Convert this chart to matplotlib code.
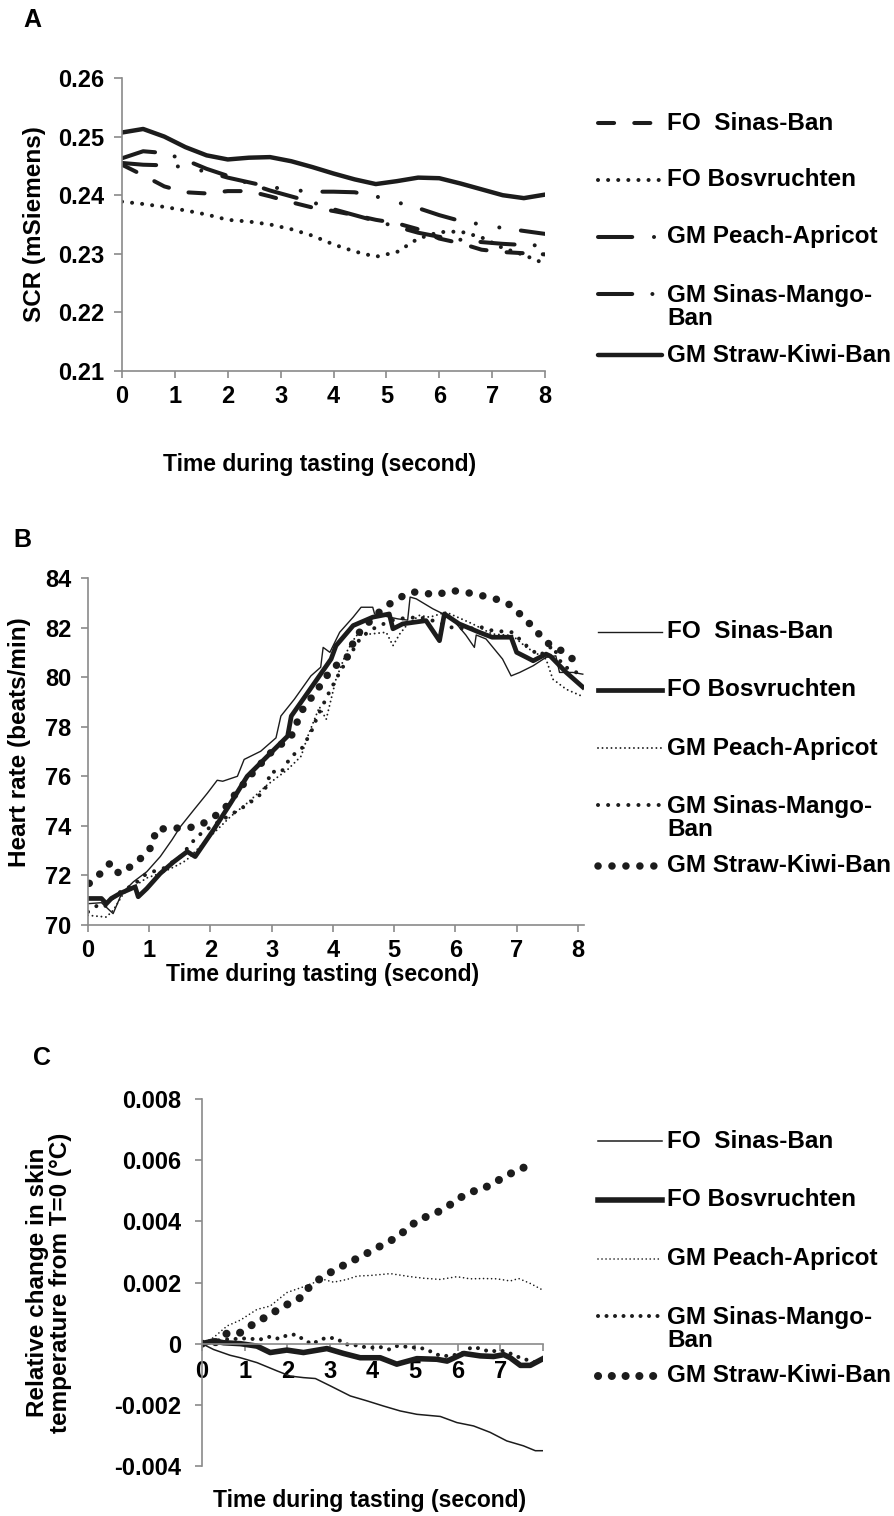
import matplotlib
matplotlib.use('Agg')
import matplotlib.pyplot as plt
from matplotlib.lines import Line2D

plt.rcParams['font.family'] = ['Liberation Sans', 'DejaVu Sans']
plt.rcParams['font.weight'] = 'bold'
plt.rcParams['axes.labelweight'] = 'bold'

# ---------------- data ----------------
labels = ['FO  Sinas-Ban', 'FO Bosvruchten', 'GM Peach-Apricot',
          'GM Sinas-Mango-\nBan', 'GM Straw-Kiwi-Ban']

# panel A: SCR (mSiemens)
a_x = [0.0, 0.4, 0.8, 1.2, 1.6, 2.0, 2.4, 2.8, 3.2, 3.6, 4.0,
       4.4, 4.8, 5.2, 5.6, 6.0, 6.4, 6.8, 7.2, 7.6, 8.0]
a_sinas = [0.2452, 0.2434, 0.2415, 0.2405, 0.2403, 0.2407, 0.2407, 0.2398, 0.2388, 0.2379, 0.2373,
           0.2366, 0.2358, 0.2352, 0.2342, 0.2326, 0.2318, 0.2307, 0.2303, 0.2301, 0.2299]
a_bos = [0.2389, 0.2385, 0.2380, 0.2374, 0.2367, 0.2358, 0.2355, 0.2350, 0.2342, 0.2331, 0.2316,
         0.2304, 0.2295, 0.2303, 0.2326, 0.2337, 0.2338, 0.2328, 0.2310, 0.2298, 0.2283]
a_peach = [0.2455, 0.2452, 0.2451, 0.2448, 0.2440, 0.2430, 0.2422, 0.2414, 0.2409, 0.2406, 0.2406,
           0.2405, 0.2398, 0.2388, 0.2378, 0.2366, 0.2356, 0.2350, 0.2344, 0.2339, 0.2334]
a_mango = [0.2463, 0.2475, 0.2472, 0.2460, 0.2445, 0.2433, 0.2420, 0.2408, 0.2398, 0.2388, 0.2376,
           0.2366, 0.2356, 0.2346, 0.2336, 0.2329, 0.2324, 0.2320, 0.2317, 0.2315, 0.2314]
a_kiwi = [0.2507, 0.2513, 0.2500, 0.2482, 0.2468, 0.2461, 0.2464, 0.2465, 0.2458, 0.2448, 0.2437,
          0.2427, 0.2419, 0.2424, 0.2430, 0.2429, 0.2420, 0.2410, 0.2400, 0.2395, 0.2401]

# panel B: heart rate (beats/min)
b_sinas_x = [0, 0.22, 0.41, 0.55, 0.74, 0.96, 1.18, 1.37, 1.51, 1.73, 1.95, 2.11, 2.2, 2.44, 2.55,
             2.82, 3.07, 3.15, 3.37, 3.64, 3.8, 3.84, 3.95, 4.11, 4.33, 4.46, 4.65, 4.68, 5.06,
             5.22, 5.26, 5.36, 5.63, 5.85, 6.0, 6.17, 6.31, 6.34, 6.5, 6.77, 6.91, 7.05, 7.27,
             7.48, 7.64, 7.7, 7.92, 8.08]
b_sinas = [70.86, 70.9, 70.46, 71.27, 71.74, 72.15, 72.76, 73.43, 73.97, 74.65, 75.32, 75.84, 75.8,
           76.0, 76.68, 77.01, 77.55, 78.43, 79.11, 80.05, 80.4, 81.2, 81.0, 81.81, 82.42, 82.82,
           82.82, 82.55, 82.35, 82.3, 83.23, 83.16, 82.76, 82.49, 82.2, 81.7, 81.2, 81.7, 81.54,
           80.73, 80.05, 80.19, 80.46, 80.8, 80.86, 80.19, 80.19, 80.12]
b_bos_x = [0, 0.22, 0.3, 0.38, 0.52, 0.77, 0.82, 0.96, 1.18, 1.4, 1.62, 1.75, 2.05, 2.33, 2.6, 2.93,
           3.26, 3.32, 3.59, 3.97, 4.05, 4.33, 4.65, 4.92, 4.98, 5.14, 5.52, 5.74, 5.82, 6.06, 6.39,
           6.6, 6.91, 7.0, 7.16, 7.27, 7.48, 7.55, 7.81, 8.08]
b_bos = [71.07, 71.07, 70.86, 71.07, 71.27, 71.54, 71.14, 71.47, 72.08, 72.55, 72.96, 72.76, 73.84,
         74.92, 76.0, 76.81, 77.62, 78.43, 79.38, 80.73, 81.27, 82.08, 82.42, 82.55, 81.95, 82.15,
         82.28, 81.47, 82.55, 82.15, 81.81, 81.61, 81.61, 81.0, 80.8, 80.66, 80.93, 80.85, 80.19, 79.6]
b_peach_x = [0, 0.3, 0.41, 0.58, 0.96, 1.2, 1.45, 1.6, 2.05, 2.33, 2.6, 2.93, 3.26, 3.48, 3.59, 3.78,
             3.89, 4.05, 4.22, 4.38, 4.87, 4.98, 5.09, 5.2, 5.41, 5.58, 5.85, 6.28, 6.6, 6.93, 7.16,
             7.48, 7.59, 7.81, 8.05]
b_peach = [70.39, 70.32, 70.59, 71.27, 71.9, 72.1, 72.4, 72.6, 73.7, 74.38, 74.92, 75.66, 76.27,
           76.81, 77.62, 78.8, 78.3, 79.92, 81.0, 81.68, 81.81, 81.27, 81.74, 82.08, 82.49, 82.42,
           82.62, 82.15, 81.74, 81.68, 81.2, 80.73, 79.92, 79.51, 79.25]
b_mango_x = [0, 0.16, 0.27, 0.44, 0.58, 0.74, 0.96, 1.23, 1.51, 1.78, 2.05, 2.33, 2.6, 2.88, 2.99,
             3.15, 3.32, 3.48, 3.64, 3.75, 3.92, 4.11, 4.27, 4.44, 4.6, 4.76, 5.03, 5.41, 5.63,
             5.93, 6.17, 6.44, 6.6, 6.93, 7.16, 7.37, 7.59, 7.75, 7.92, 8.05]
b_mango = [70.53, 70.8, 70.73, 71.2, 71.41, 71.61, 72.08, 72.28, 72.76, 73.57, 74.04, 74.45, 74.85,
           75.39, 76.2, 76.14, 76.81, 77.08, 77.76, 78.43, 79.3, 80.19, 80.86, 81.54, 81.88, 82.08,
           82.35, 82.42, 82.28, 82.01, 81.95, 82.01, 81.88, 81.81, 81.27, 80.86, 81.27, 80.46,
           80.26, 80.1]
b_kiwi_x = [0.02, 0.19, 0.36, 0.44, 0.56, 0.74, 0.93, 1.07, 1.1, 1.33, 1.56, 1.79, 2.0, 2.22, 2.34,
            2.49, 2.63, 2.79, 2.95, 3.15, 3.32, 3.4, 3.49, 3.63, 3.77, 3.9, 4.0, 4.22, 4.38, 4.49,
            4.65, 4.84, 5.06, 5.26, 5.44, 5.68, 5.92, 6.15, 6.38, 6.6, 6.83, 7.01, 7.18, 7.34,
            7.48, 7.64, 7.73, 7.85, 7.96]
b_kiwi = [71.68, 72.05, 72.49, 72.15, 72.08, 72.46, 72.82, 73.27, 73.84, 73.91, 73.91, 73.97, 74.27,
          74.65, 75.08, 75.53, 75.97, 76.41, 76.88, 77.28, 77.62, 78.09, 78.64, 79.11, 79.58, 80.05,
          80.39, 80.73, 81.68, 81.95, 82.38, 82.82, 83.16, 83.43, 83.43, 83.3, 83.5, 83.43, 83.32,
          83.19, 83.03, 82.65, 82.24, 81.81, 81.41, 81.2, 81.07, 80.84, 80.66]

# panel C: relative change in skin temperature (°C)
c_sinas_x = [0, 0.27, 0.66, 0.9, 1.29, 1.76, 2.07, 2.38, 2.66, 3.01, 3.48, 3.87, 4.26, 4.65, 5.04,
             5.59, 5.98, 6.37, 6.76, 7.15, 7.54, 7.82, 8.0]
c_sinas = [0, -0.00019, -0.00038, -0.00046, -0.00062, -0.00089, -0.00106, -0.00111, -0.00114,
           -0.00138, -0.00171, -0.00187, -0.00204, -0.00220, -0.00231, -0.00238, -0.00258,
           -0.00269, -0.00290, -0.00318, -0.00334, -0.00350, -0.00350]
c_bos_x = [0, 0.27, 0.51, 0.9, 1.29, 1.6, 1.99, 2.38, 2.93, 3.32, 3.71, 4.18, 4.57, 5.04, 5.51, 5.75,
           6.14, 6.53, 6.84, 7.08, 7.23, 7.47, 7.7, 8.0]
c_bos = [0, 0.00009, 0.00003, 0.0, -0.00008, -0.00029, -0.00021, -0.00029, -0.00016, -0.00032,
         -0.00046, -0.00046, -0.00067, -0.00049, -0.00051, -0.00057, -0.00032, -0.00040,
         -0.00042, -0.00036, -0.00046, -0.00071, -0.00071, -0.00049]
c_peach_x = [0, 0.27, 0.59, 0.9, 1.29, 1.6, 1.99, 2.38, 2.58, 2.85, 3.09, 3.4, 3.64, 3.95, 4.42,
             4.89, 5.2, 5.59, 5.98, 6.29, 6.61, 6.92, 7.23, 7.43, 7.7, 7.97]
c_peach = [0, 0.00020, 0.00058, 0.00077, 0.00112, 0.00123, 0.00167, 0.00186, 0.00197, 0.00210,
           0.00201, 0.00210, 0.00221, 0.00223, 0.00229, 0.00219, 0.00214, 0.00210, 0.00219,
           0.00212, 0.00213, 0.00212, 0.00205, 0.00213, 0.00197, 0.00177]
c_mango_x = [0, 0.27, 0.59, 0.98, 1.37, 1.6, 1.8, 1.99, 2.19, 2.38, 2.58, 2.78, 2.97, 3.17, 3.36,
             3.56, 3.75, 3.99, 4.18, 4.38, 4.57, 4.81, 5.0, 5.2, 5.39, 5.59, 5.82, 6.1, 6.33,
             6.53, 6.76, 6.96, 7.15, 7.39, 7.58, 7.78, 7.94]
c_mango = [0, 0.00009, 0.00014, 0.00017, 0.00014, 0.00023, 0.00016, 0.00027, 0.00030, 0.00014,
           -0.00002, 0.00014, 0.00020, 0.00016, -0.00002, -0.00004, -0.00010, -0.00013, -0.00011,
           -0.00019, -0.00008, -0.00010, -0.00013, -0.00016, -0.00027, -0.00040, -0.00040,
           -0.00032, -0.00011, -0.00016, -0.00027, -0.00021, -0.00027, -0.00042, -0.00051,
           -0.00060, -0.00060]
c_kiwi_x = [0, 0.3, 0.59, 0.9, 1.17, 1.47, 1.77, 2.05, 2.35, 2.54, 2.81, 3.1, 3.4, 3.7, 4.0, 4.3,
            4.59, 4.85, 5.12, 5.43, 5.73, 6.0, 6.29, 6.61, 6.9, 7.19, 7.5, 7.82]
c_kiwi = [0, 0.00003, 0.00034, 0.00036, 0.00061, 0.00085, 0.00110, 0.00132, 0.00153, 0.00190,
          0.00216, 0.00240, 0.00262, 0.00283, 0.00305, 0.00328, 0.00349, 0.00381, 0.00408,
          0.00423, 0.00445, 0.00473, 0.00495, 0.00508, 0.00530, 0.00553, 0.00573, 0.00591]

# ---------------- styles ----------------
INK = '#1c1c1c'
GREY = '#8a8a8a'
TICK_FS = 17
LAB_FS = 16.5
YLAB_FS = 17.5
LEG_FS = 17.5


def dots(lw, gap):
    return dict(lw=lw, ls=(0, (0.01, gap)), dash_capstyle='round', color=INK)


a_styles = [
    dict(lw=2.9, ls=(0, (4.0, 5.0)), dash_capstyle='round', color=INK),
    dots(2.9, 2.5),
    dict(lw=2.9, ls=(0, (8.5, 5.4, 0.01, 5.9, 0.01, 5.4)), dash_capstyle='round', color=INK),
    dict(lw=2.9, ls=(0, (8.5, 5.0, 0.01, 5.0)), dash_capstyle='round', color=INK),
    dict(lw=3.2, ls='-', solid_capstyle='round', color=INK),
]
b_styles = [
    dict(lw=1.0, ls='-', color=INK),
    dict(lw=3.4, ls='-', color=INK),
    dots(1.4, 2.3),
    dots(2.9, 2.5),
    dots(5.4, 1.85),
]
c_styles = [
    dict(lw=1.1, ls='-', color=INK),
    dict(lw=4.0, ls='-', color=INK),
    dots(1.2, 2.4),
    dots(2.9, 2.1),
    dots(5.8, 1.7),
]

W, H = 894, 1516
fig = plt.figure(figsize=(W / 100, H / 100), dpi=100)


def box(l, t, r, b):
    return [l / W, 1 - b / H, (r - l) / W, (b - t) / H]


def style_axes(ax):
    ax.spines['top'].set_visible(False)
    ax.spines['right'].set_visible(False)
    for s in ['left', 'bottom']:
        ax.spines[s].set_color(GREY)
        ax.spines[s].set_linewidth(1.2)
    ax.tick_params(colors=GREY, labelcolor='black', width=1.2, length=5,
                   labelsize=TICK_FS)


def legend_rows(rows, styles):
    for (hy, ty), lab, st in zip(rows, labels, styles):
        fig.add_artist(Line2D([598 / W, 662 / W], [1 - hy / H] * 2,
                              transform=fig.transFigure, **st))
        fig.text(667 / W, 1 - ty / H, lab, ha='left', va='center',
                 fontsize=LEG_FS, fontweight='bold', linespacing=0.95)


# ---------------- panel A ----------------
axA = fig.add_axes(box(122, 78, 545, 371))
style_axes(axA)
for ys, st in zip([a_sinas, a_bos, a_peach, a_mango, a_kiwi], a_styles):
    axA.plot(a_x, ys, **st)
axA.set_xlim(0, 8)
axA.set_ylim(0.21, 0.26)
axA.set_xticks(range(9))
axA.set_yticks([0.21, 0.22, 0.23, 0.24, 0.25, 0.26])
axA.set_yticklabels(['%.2f' % v for v in [0.21, 0.22, 0.23, 0.24, 0.25, 0.26]])
axA.tick_params(axis='y', length=6, pad=7)
axA.tick_params(axis='x', length=5, pad=5)
axA.set_xlabel('Time during tasting (second)', fontsize=LAB_FS)
axA.xaxis.label.set_va('center')
axA.xaxis.set_label_coords((320 - 122) / 423, (371 - 464) / 293)
axA.set_ylabel('SCR (mSiemens)', fontsize=YLAB_FS)
axA.yaxis.label.set_va('center')
axA.yaxis.set_label_coords((35 - 122) / 423, 0.5)
legend_rows([(123, 123), (180, 180), (237, 237), (294, 307), (355, 355)], a_styles)

# ---------------- panel B ----------------
axB = fig.add_axes(box(88, 578, 584, 925))
style_axes(axB)
b_series = [(b_sinas_x, b_sinas), (b_bos_x, b_bos), (b_peach_x, b_peach),
            (b_mango_x, b_mango), (b_kiwi_x, b_kiwi)]
for (xs, ys), st in zip(b_series, b_styles):
    axB.plot(xs, ys, **st)
axB.set_xlim(0, 8.1)
axB.set_ylim(70, 84)
axB.set_xticks(range(9))
axB.set_yticks(range(70, 85, 2))
axB.tick_params(axis='y', length=5, pad=7)
axB.tick_params(axis='x', length=5, pad=5)
axB.set_xlabel('Time during tasting (second)', fontsize=LAB_FS)
axB.xaxis.label.set_va('center')
axB.xaxis.set_label_coords((323 - 88) / 496, (925 - 975) / 347)
axB.set_ylabel('Heart rate (beats/min)', fontsize=YLAB_FS)
axB.yaxis.label.set_va('center')
axB.yaxis.set_label_coords((20 - 88) / 496, (925 - 742) / 347)
legend_rows([(632, 632), (690, 690), (748, 748), (805, 818), (866, 866)], b_styles)

# ---------------- panel C ----------------
axC = fig.add_axes(box(202, 1099, 543, 1466))
style_axes(axC)
c_series = [(c_sinas_x, c_sinas), (c_bos_x, c_bos), (c_peach_x, c_peach),
            (c_mango_x, c_mango), (c_kiwi_x, c_kiwi)]
for (xs, ys), st in zip(c_series, c_styles):
    axC.plot(xs, ys, **st)
axC.spines['bottom'].set_position(('data', 0))
axC.set_xlim(0, 8)
axC.set_ylim(-0.004, 0.008)
axC.set_xticks(range(9))
axC.set_xticklabels([str(i) for i in range(8)] + [''])
c_yt = [-0.004, -0.002, 0, 0.002, 0.004, 0.006, 0.008]
axC.set_yticks(c_yt)
axC.set_yticklabels(['-0.004', '-0.002', '0', '0.002', '0.004', '0.006', '0.008'])
axC.tick_params(axis='y', length=5, pad=10)
axC.tick_params(axis='x', length=5, pad=7)
axC.set_xlabel('Time during tasting (second)', fontsize=LAB_FS)
axC.xaxis.label.set_va('center')
axC.xaxis.set_label_coords((370 - 202) / 341, (1466 - 1500) / 367)
axC.set_ylabel('Relative change in skin\ntemperature from T=0 (°C)', fontsize=YLAB_FS,
               linespacing=1.0)
axC.yaxis.label.set_va('center')
axC.yaxis.set_label_coords((49 - 202) / 341, 0.5)
legend_rows([(1141, 1141), (1200, 1200), (1259, 1259), (1316, 1329), (1376, 1376)], c_styles)

# panel letters
for lab, (px, py) in zip(['A', 'B', 'C'], [(32, 20), (22, 540), (42, 1058)]):
    fig.text(px / W, 1 - py / H, lab, ha='center', va='center', fontsize=18,
             fontweight='bold')

fig.savefig('out.png', dpi=100)
